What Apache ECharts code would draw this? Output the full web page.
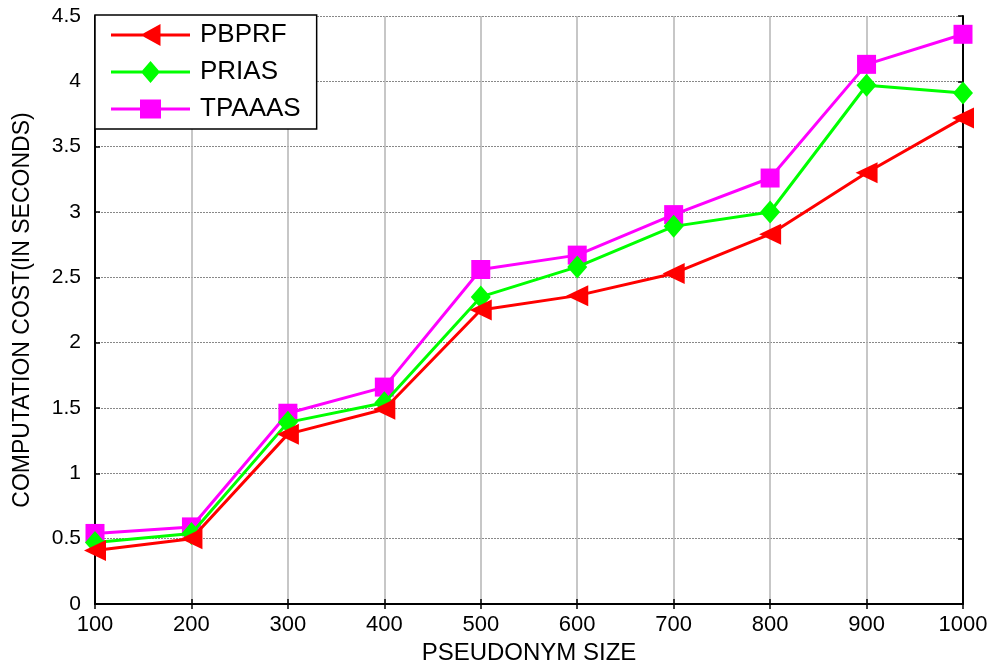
<!DOCTYPE html>
<html>
<head>
<meta charset="utf-8">
<script src="https://cdn.jsdelivr.net/npm/echarts@6/dist/echarts.min.js"></script>
<style>html,body{margin:0;padding:0;background:#fff}#c{width:996px;height:670px}</style>
</head>
<body>
<div id="c"></div>
<script>
const sizes = [100, 200, 300, 400, 500, 600, 700, 800, 900, 1000];
const pbprf = [0.41, 0.50, 1.30, 1.49, 2.25, 2.36, 2.53, 2.83, 3.30, 3.72];
const prias = [0.47, 0.54, 1.39, 1.54, 2.35, 2.58, 2.89, 3.00, 3.97, 3.91];
const tpaaas = [0.54, 0.59, 1.46, 1.66, 2.56, 2.67, 2.98, 3.26, 4.13, 4.36];
const seriesNames = ['PBPRF', 'PRIAS', 'TPAAAS'];

const font = 'Liberation Sans, Arial, sans-serif';
const pair = arr => sizes.map((s, i) => [s, arr[i]]);

const lineBar = 'M0,9.5 L79,9.5 L79,12.5 L0,12.5 Z ';
const legendIcons = [
  'path://' + lineBar + 'M29.5,11 L49.5,0 L49.5,22 Z',
  'path://' + lineBar + 'M39.5,0 L49,11 L39.5,22 L30,11 Z',
  'path://' + lineBar + 'M29,1.5 L50,1.5 L50,20.5 L29,20.5 Z'
];

const chart = echarts.init(document.getElementById('c'));
chart.setOption({
  animation: false,
  backgroundColor: '#fff',
  grid: { left: 95, right: 33, top: 16, bottom: 65 },
  legend: {
    orient: 'vertical', left: 95, top: 15,
    padding: [7, 16, 7, 16], itemGap: 11, itemWidth: 79, itemHeight: 22,
    symbolKeepAspect: true,
    backgroundColor: '#fff', borderColor: '#000', borderWidth: 1.5,
    textStyle: { fontFamily: font, fontSize: 26, color: '#000', lineHeight: 22, padding: [0, 0, 0, 5] },
    data: seriesNames.map((n, i) => ({ name: n, icon: legendIcons[i] }))
  },
  xAxis: [{
    type: 'value', min: 100, max: 1000, interval: 100,
    name: 'PSEUDONYM SIZE', nameLocation: 'middle', nameGap: 37,
    nameTextStyle: { fontFamily: font, fontSize: 24, color: '#000' },
    axisLine: { show: true, lineStyle: { color: '#000', width: 2 } },
    axisTick: { show: true, inside: true, length: 5, lineStyle: { color: '#000', width: 1.5 } },
    axisLabel: { fontFamily: font, fontSize: 22, color: '#000', margin: 10, formatter: v => String(v) },
    splitLine: { show: true, lineStyle: { color: '#b4b4b4', width: 1.5 } }
  }, {
    type: 'value', position: 'top', min: 100, max: 1000, interval: 100,
    axisLine: { show: true, lineStyle: { color: '#000', width: 1.5 } },
    axisTick: { show: true, inside: true, length: 5, lineStyle: { color: '#000', width: 1.5 } },
    axisLabel: { show: false }, splitLine: { show: false }
  }],
  yAxis: [{
    type: 'value', min: 0, max: 4.5, interval: 0.5,
    name: 'COMPUTATION COST(IN SECONDS)', nameLocation: 'middle', nameGap: 61,
    nameTextStyle: { fontFamily: font, fontSize: 23, color: '#000' },
    axisLine: { show: true, lineStyle: { color: '#000', width: 2 } },
    axisTick: { show: true, inside: true, length: 5, lineStyle: { color: '#000', width: 1.5 } },
    axisLabel: { fontFamily: font, fontSize: 21, color: '#000', margin: 14 },
    splitLine: { show: true, lineStyle: { color: '#888', width: 1, type: [2, 1] } }
  }, {
    type: 'value', position: 'right', min: 0, max: 4.5, interval: 0.5,
    axisLine: { show: true, lineStyle: { color: '#000', width: 2 } },
    axisTick: { show: true, inside: true, length: 5, lineStyle: { color: '#000', width: 1.5 } },
    axisLabel: { show: false }, splitLine: { show: false }
  }],
  series: [{
    name: 'PBPRF', type: 'line', data: pair(pbprf),
    symbol: 'triangle', symbolSize: [21, 22], symbolRotate: 90,
    lineStyle: { color: '#ff0000', width: 3 }, itemStyle: { color: '#ff0000' }, z: 4
  }, {
    name: 'PRIAS', type: 'line', data: pair(prias),
    symbol: 'diamond', symbolSize: [20, 23],
    lineStyle: { color: '#00ff00', width: 3 }, itemStyle: { color: '#00ff00' }, z: 3
  }, {
    name: 'TPAAAS', type: 'line', data: pair(tpaaas),
    symbol: 'rect', symbolSize: 19,
    lineStyle: { color: '#ff00ff', width: 3 }, itemStyle: { color: '#ff00ff' }, z: 2
  }]
});
</script>
</body>
</html>
